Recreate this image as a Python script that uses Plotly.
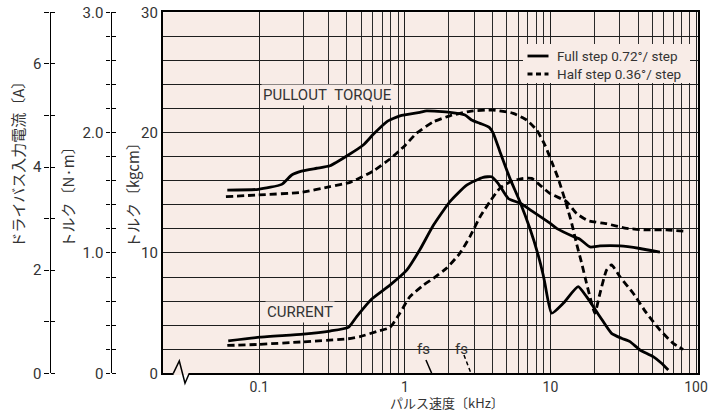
import math
import plotly.graph_objects as go

W, H = 708, 413
PINK = "#f8ece7"
TXT = "#333333"
FONT = "Roboto, sans-serif"
JP = "Noto Sans CJK JP, sans-serif"

# ---- data ----
# Pull-out torque, full step [kHz], [kgcm]
tq_full_f = [0.0603, 0.0984, 0.1426, 0.167, 0.195, 0.248, 0.306, 0.409, 0.518, 0.607, 0.75, 0.925,
             1.27, 1.41, 2.04, 2.59, 2.87, 3.28, 3.80, 4.05, 4.50, 5.27, 6.17, 7.22, 8.24, 8.92,
             9.16, 10.2, 12.24, 15.5, 17.7, 21.9, 26.3, 30.8, 35.2, 41.2, 50.8, 58, 64.5]
tq_full_v = [15.23, 15.29, 15.7, 16.48, 16.8, 17.04, 17.25, 18.14, 18.97, 19.86, 20.9, 21.4,
             21.69, 21.8, 21.69, 21.47, 21.05, 20.77, 20.44, 19.94, 18.42, 16.2, 14.26, 12.05, 9.83, 8.17,
             7.48, 4.99, 5.82, 7.2, 6.37, 4.7, 3.32, 2.91, 2.63, 1.94, 1.38, 0.83, 0.27]

# Pull-out torque, half step
tq_half_f = [0.059, 0.0984, 0.195, 0.306, 0.42, 0.607, 0.79, 1.0, 1.2, 1.57, 2.04, 2.8, 4.05,
             5.55, 6.87, 8.04, 9.17, 10.2, 11.3, 12.9, 14.0, 15.1, 16.4, 17.7, 19.2, 20.2, 21.9,
             24.3, 26.3, 30.0, 37.0, 45.8, 56.5, 69.7, 81.6]
tq_half_v = [14.68, 14.82, 15.04, 15.51, 15.87, 16.81, 17.81, 18.92, 19.94, 20.9, 21.4, 21.77, 21.88,
             21.6, 21.05, 20.22, 18.97, 17.58, 16.2, 13.99, 12.47, 10.8, 9.14, 7.48, 5.82, 4.99, 6.65,
             8.58, 9.0, 8.03, 6.65, 4.99, 3.6, 2.49, 1.99]

# Driver input current, full step [kHz], [A]
cur_full_f = [0.0612, 0.101, 0.2005, 0.306, 0.409, 0.467, 0.592, 0.79, 1.03, 1.27, 1.57, 2.04, 2.66,
              3.45, 3.94, 4.38, 5.13, 6.16, 7.62, 9.93, 11.03, 14.7, 15.95, 18.7, 21.9, 30.0, 41.2, 56.5]
cur_full_v = [0.63, 0.70, 0.76, 0.82, 0.89, 1.10, 1.44, 1.71, 2.00, 2.40, 2.87, 3.33, 3.65,
              3.80, 3.81, 3.68, 3.39, 3.30, 3.13, 2.91, 2.81, 2.64, 2.60, 2.45, 2.47, 2.47, 2.42, 2.35]

# Driver input current, half step
cur_half_f = [0.0603, 0.0984, 0.2005, 0.409, 0.492, 0.64, 0.79, 0.926, 1.08, 1.34, 1.57, 1.94, 2.39,
              2.8, 3.28, 3.84, 4.5, 5.27, 6.5, 7.43, 8.47, 9.9, 12.9, 15.1, 18.1, 24.3, 33.4, 45.8, 62.8, 86.1]
cur_half_v = [0.54, 0.56, 0.61, 0.67, 0.71, 0.81, 0.89, 1.17, 1.48, 1.71, 1.84, 2.04, 2.33,
              2.65, 3.03, 3.33, 3.59, 3.71, 3.78, 3.78, 3.65, 3.49, 3.33, 3.10, 2.96, 2.90, 2.81, 2.78, 2.78, 2.75]

# fs markers (short pointer lines) [kHz], [kgcm]
fs_full_x = [1.396, 1.528]
fs_full_y = [1.1, 0.0]
fs_half_x = [2.547, 2.844]
fs_half_y = [1.52, 0.0]

x_major = [0.1, 1, 10, 100]
x_major_text = ["0.1", "1", "10", "100"]
x_minor = [0.2, 0.3, 0.4, 0.5, 0.6, 0.7, 0.8, 0.9,
           2, 3, 4, 5, 6, 7, 8, 9,
           20, 30, 40, 50, 60, 70, 80, 90]

names = ["Full step 0.72\u00b0/ step", "Half step 0.36\u00b0/ step"]

# ---- layout helpers (pixel -> paper) ----
def px(x):
    return x / W

def py(y):
    return 1 - y / H

X0, X1 = 162.7, 697.7
Y0, Y1 = 12.3, 373.3

fig = go.Figure()

spl = dict(shape="spline", smoothing=0.5)
DASH = "7px,4px"
fig.add_trace(go.Scatter(x=tq_full_f, y=tq_full_v, mode="lines", name=names[0], showlegend=False,
                         line=dict(color="black", width=2.8, **spl), yaxis="y"))
fig.add_trace(go.Scatter(x=tq_half_f, y=tq_half_v, mode="lines", name=names[1], showlegend=False,
                         line=dict(color="black", width=2.8, dash=DASH, **spl), yaxis="y"))
fig.add_trace(go.Scatter(x=cur_full_f, y=cur_full_v, mode="lines", showlegend=False,
                         line=dict(color="black", width=2.8, **spl), yaxis="y3"))
fig.add_trace(go.Scatter(x=cur_half_f, y=cur_half_v, mode="lines", showlegend=False,
                         line=dict(color="black", width=2.8, dash=DASH, **spl), yaxis="y3"))
fig.add_trace(go.Scatter(x=fs_full_x, y=fs_full_y, mode="lines", showlegend=False,
                         line=dict(color="black", width=1.5), yaxis="y"))
fig.add_trace(go.Scatter(x=fs_half_x, y=fs_half_y, mode="lines", showlegend=False,
                         line=dict(color="black", width=1.5, dash="4px,3px"), yaxis="y"))
# invisible traces so that every auxiliary axis is drawn
for ax in ["y2", "y4", "y5"]:
    fig.add_trace(go.Scatter(x=[1], y=[0], yaxis=ax, mode="markers", marker=dict(opacity=0),
                             showlegend=False, hoverinfo="skip"))

xr = [math.log10(0.1) - (259.3 - X0) / 145.6, 2 + (X1 - 696.0) / 145.6]

tickfont = dict(family=FONT, size=15, color=TXT)
ydom = [py(Y1), py(Y0)]
tk = dict(tickwidth=1.3, tickcolor="black")

fig.update_layout(
    width=W, height=H,
    margin=dict(l=0, r=0, t=0, b=0, autoexpand=False),
    paper_bgcolor="white",
    plot_bgcolor=PINK,
    showlegend=False,
    xaxis=dict(type="log", range=xr, domain=[px(X0), px(X1)], anchor="y", automargin=False,
               showline=True, linecolor="black", linewidth=1.5, mirror=True,
               tickmode="array", tickvals=x_major, ticktext=x_major_text,
               ticks="", tickfont=dict(family=FONT, size=14, color=TXT),
               showgrid=True, gridcolor="#1e1e1e", gridwidth=1.2, zeroline=False,
               minor=dict(tickmode="array", tickvals=x_minor, ticks="", showgrid=True,
                          gridcolor="#2a2a2a", gridwidth=1.4)),
    yaxis=dict(range=[0, 30], domain=ydom, anchor="x", automargin=False,
               showline=True, linecolor="black", linewidth=1.5, mirror=True,
               tickmode="array", tickvals=[0, 10, 20, 30], ticks="", tickfont=tickfont,
               showgrid=True, gridcolor="#1e1e1e", gridwidth=1.3, zeroline=False,
               minor=dict(dtick=2, showgrid=True, gridcolor="#1e1e1e", gridwidth=1.3)),
    yaxis2=dict(range=[0, 3], domain=ydom, overlaying="y", anchor="free", position=px(110.5),
                side="left", showline=True, linecolor="black", linewidth=1.3, automargin=False,
                tickmode="array", tickvals=[0, 1, 2, 3], ticktext=["0", "1.0", "2.0", "3.0"],
                ticks="outside", ticklen=4, tickfont=tickfont, showticklabels=True, **tk,
                showgrid=False, zeroline=False,
                minor=dict(dtick=0.2, ticks="outside", ticklen=4, showgrid=False, **tk)),
    yaxis4=dict(range=[0, 3], domain=ydom, overlaying="y", anchor="free", position=px(110.5),
                side="right", showline=False, automargin=False,
                tickmode="array", tickvals=[0, 1, 2, 3], showticklabels=False,
                ticks="outside", ticklen=4, **tk,
                showgrid=False, zeroline=False,
                minor=dict(dtick=0.2, ticks="outside", ticklen=4, showgrid=False, **tk)),
    yaxis3=dict(range=[0, 7], domain=ydom, overlaying="y", anchor="free", position=px(49.5),
                side="left", showline=True, linecolor="black", linewidth=1.3, automargin=False,
                tickmode="array", tickvals=[0, 2, 4, 6],
                ticks="outside", ticklen=5, tickfont=tickfont, **tk,
                showgrid=False, zeroline=False,
                minor=dict(dtick=1, ticks="outside", ticklen=5, showgrid=False, **tk)),
    yaxis5=dict(range=[0, 7], domain=ydom, overlaying="y", anchor="free", position=px(49.5),
                side="right", showline=False, automargin=False,
                tickmode="array", tickvals=[0, 2, 4, 6], showticklabels=False,
                ticks="outside", ticklen=4, **tk,
                showgrid=False, zeroline=False,
                minor=dict(dtick=1, ticks="outside", ticklen=4, showgrid=False, **tk)),
)

ann = []
def add_text(text, x, y, size=15, angle=0, font=FONT, bg=None, xanchor="center", pad=1):
    d = dict(text=text, x=px(x), y=py(y), xref="paper", yref="paper",
             xanchor=xanchor, yanchor="middle", showarrow=False, textangle=angle,
             font=dict(family=font, size=size, color=TXT), borderpad=pad)
    if bg:
        d["bgcolor"] = bg
    ann.append(d)

add_text("PULLOUT&nbsp;&nbsp;TORQUE", 327.5, 95.5, size=15, bg=PINK)
add_text("CURRENT", 300, 312, size=15, bg=PINK)
add_text("fs", 423.5, 349, size=15)
add_text("fs", 461, 349, size=15)
add_text("パルス速度〔kHz〕", 447, 402.5, size=13, font=JP, pad=0)
add_text("ドライバス入力電流〔A〕", 17, 160.5, size=15, angle=-90, font=JP)
add_text("トルク〔N·m〕", 67, 193.5, size=15, angle=-90, font=JP)
add_text("トルク〔kgcm〕", 132, 192, size=15, angle=-90, font=JP)
# legend entries
LEG_Y = [56, 74]
add_text(names[0], 556, LEG_Y[0], size=13.5, xanchor="left", pad=0)
add_text(names[1], 556, LEG_Y[1], size=13.5, xanchor="left", pad=0)
fig.update_layout(annotations=ann)

shapes = [
    # legend background (hides the grid)
    dict(type="rect", xref="paper", yref="paper", x0=px(523), x1=px(690), y0=py(83), y1=py(44),
         fillcolor=PINK, line=dict(width=0), layer="above"),
    dict(type="line", xref="paper", yref="paper", x0=px(527.5), x1=px(548.5), y0=py(LEG_Y[0]), y1=py(LEG_Y[0]),
         line=dict(color="black", width=2.8), layer="above"),
    dict(type="line", xref="paper", yref="paper", x0=px(527.5), x1=px(548.5), y0=py(LEG_Y[1]), y1=py(LEG_Y[1]),
         line=dict(color="black", width=2.8, dash="5px,3.5px"), layer="above"),
    # axis-break zigzag on the x axis
    dict(type="rect", xref="paper", yref="paper", x0=px(173.6), x1=px(189), y0=py(375), y1=py(371.8),
         fillcolor=PINK, line=dict(width=0), layer="above"),
    dict(type="path", xref="paper", yref="paper", layer="above",
         path=f"M {px(173.3)} {py(373.3)} L {px(179.3)} {py(361)} L {px(185)} {py(383.3)} L {px(189.3)} {py(373.3)}",
         line=dict(color="black", width=1.5)),
]
fig.update_layout(shapes=shapes)

fig.write_html("out.html")
